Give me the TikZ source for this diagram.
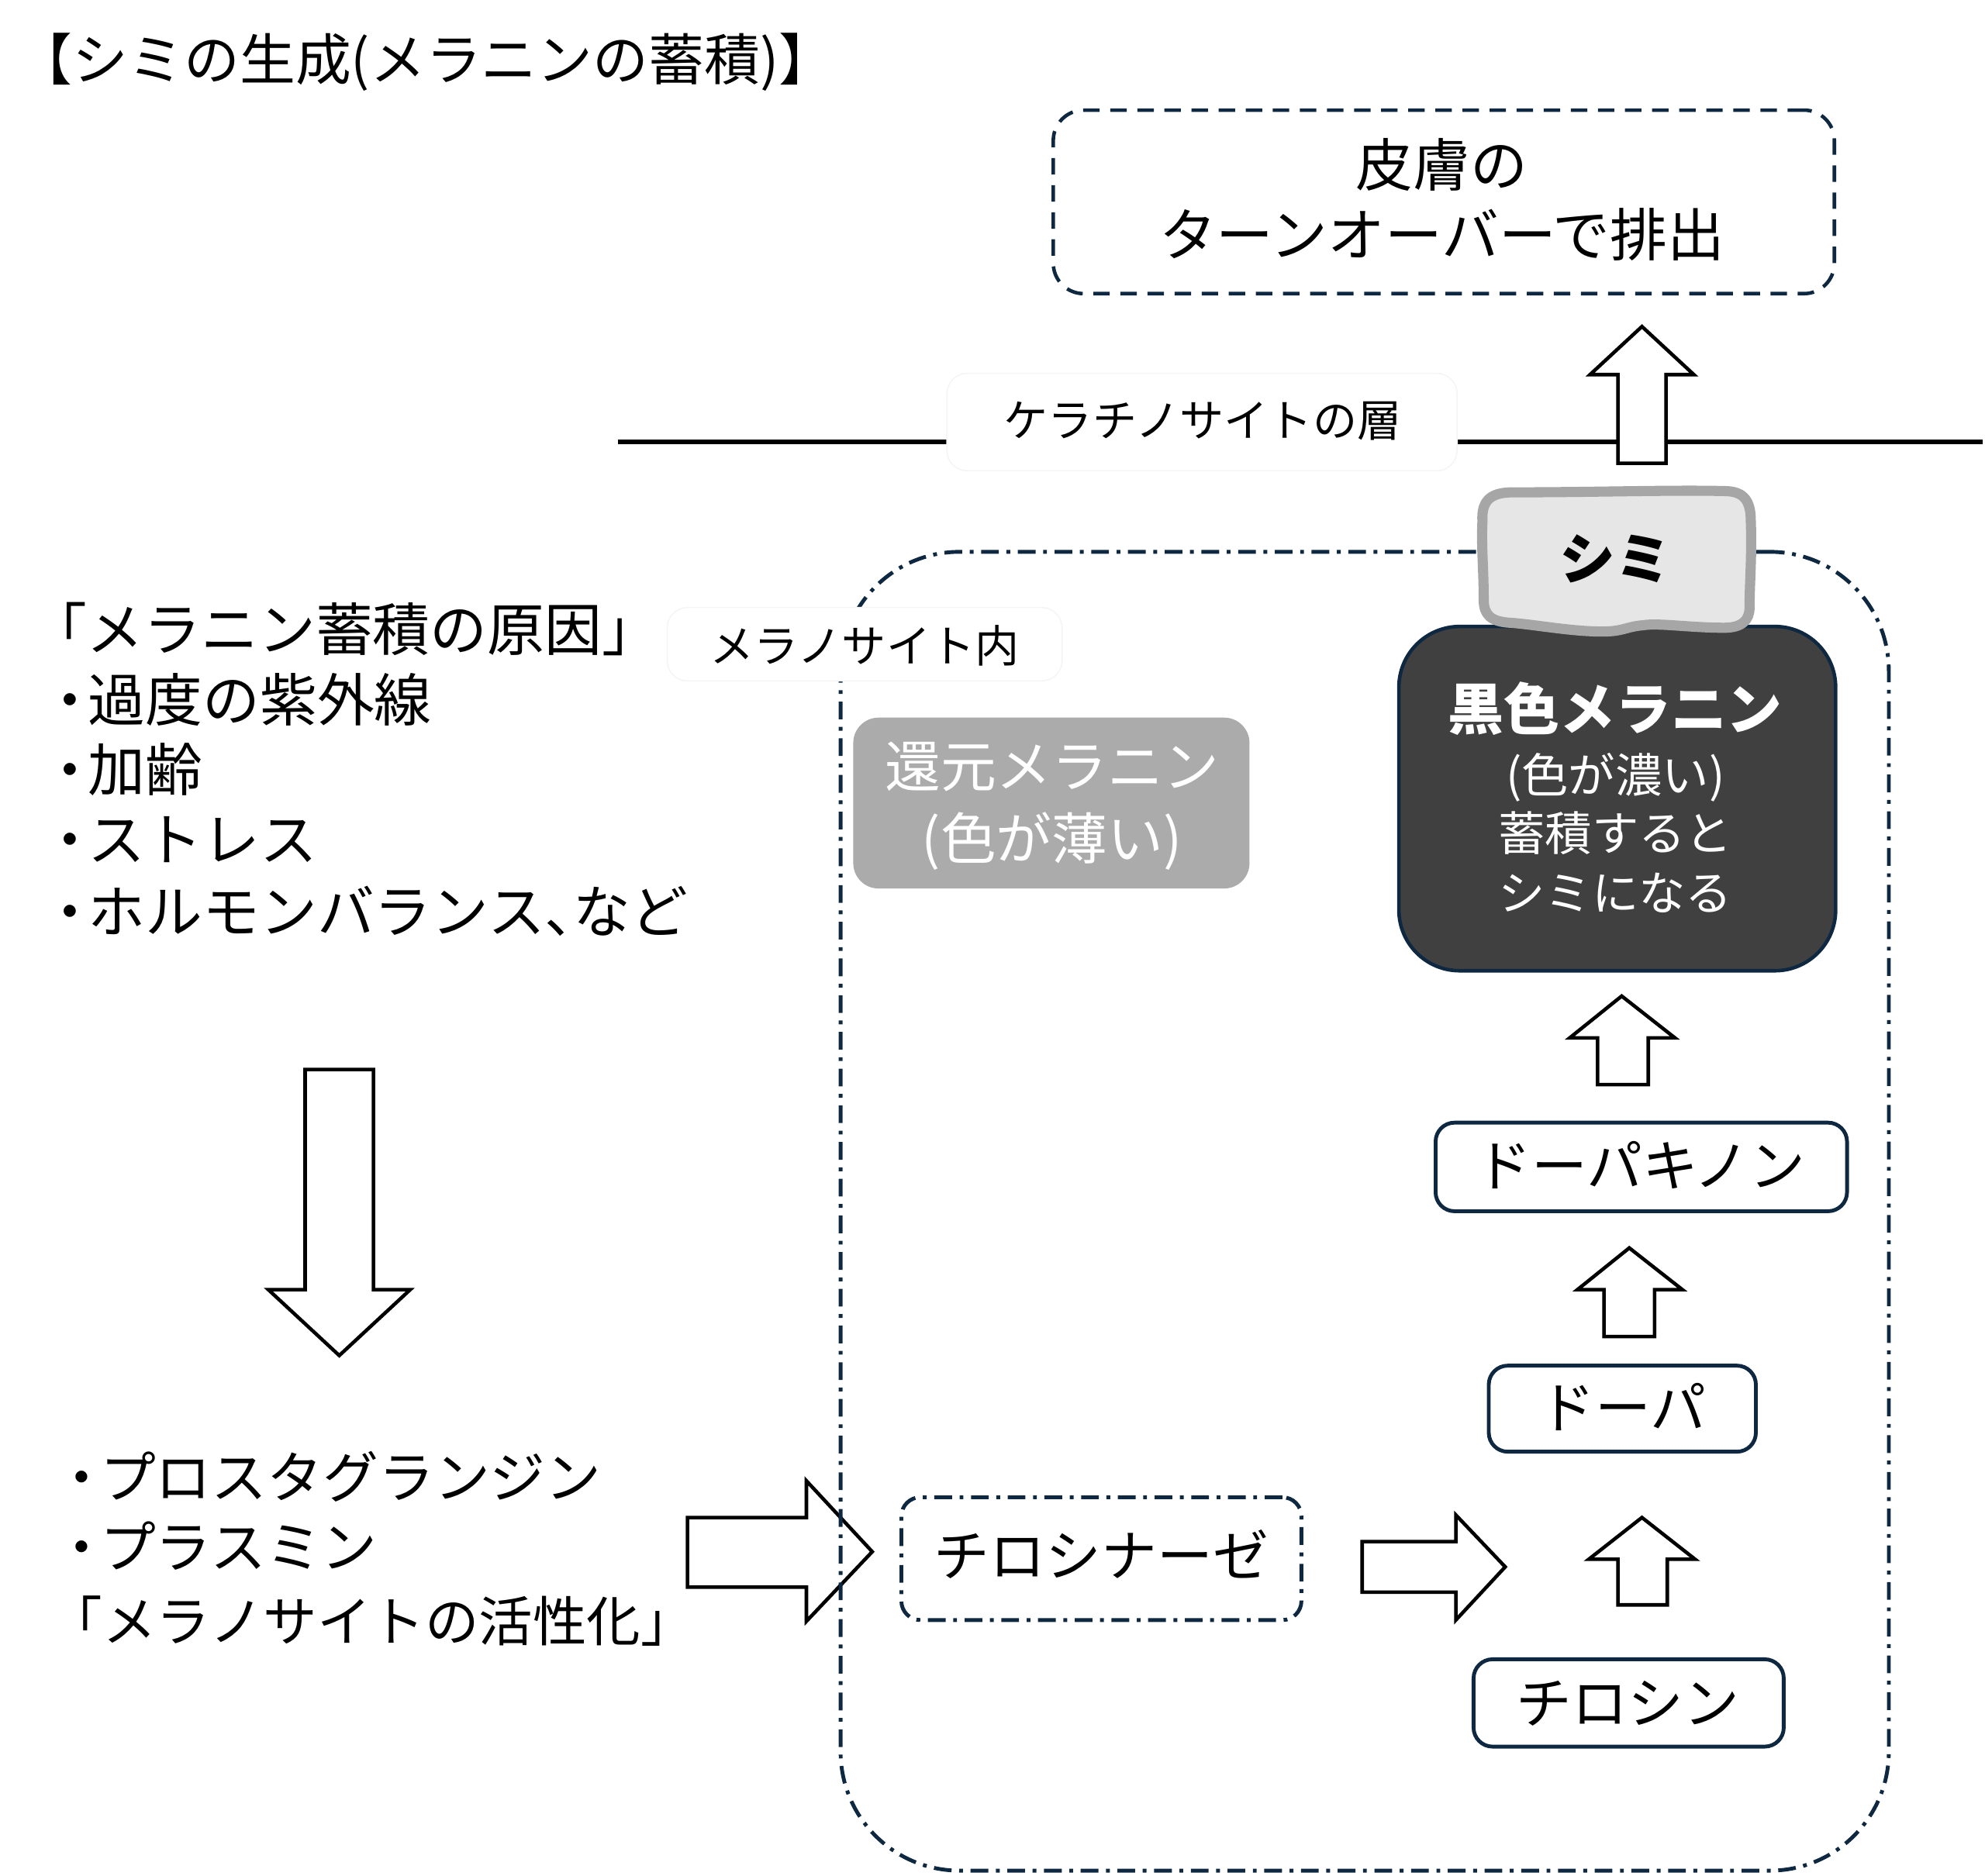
\documentclass[tikz,border=0pt]{standalone}
\usepackage{fontspec}
\setmainfont{Noto Sans CJK JP}
\usetikzlibrary{fit}
\definecolor{navy}{HTML}{0E2841}
\definecolor{darkfill}{HTML}{404040}
\definecolor{redgray}{HTML}{ABABAB}
\definecolor{shimiline}{HTML}{A6A6A6}
\definecolor{shimifill}{HTML}{E6E6E6}
\newcommand{\mydot}{\makebox[0.65em][c]{・}}
\newcommand{\mycomma}{\makebox[0.5em][l]{、}}
\begin{document}
\begin{tikzpicture}[x=0.5pt,y=-0.5pt,
  tA/.style={inner sep=0pt,font=\fontsize{22}{26}\selectfont,text height=18pt,text depth=1.3pt},
  tL/.style={inner sep=0pt,font=\fontsize{22.6}{26}\selectfont,text height=18.5pt,text depth=1.3pt},
  tAb/.style={inner sep=0pt,font=\fontsize{22}{26}\selectfont\bfseries,text height=18pt,text depth=1.3pt},
  tB/.style={inner sep=0pt,font=\fontsize{18.5}{22}\selectfont,text height=15.2pt,text depth=1.1pt},
  tC/.style={inner sep=0pt,font=\fontsize{17.5}{21}\selectfont,text height=14.4pt,text depth=1pt},
  hollow/.style={draw=black,fill=white,line width=1.4pt,line join=miter},
  stepbox/.style={draw=navy,line width=1.5pt,rounded corners=7.5pt,inner sep=0pt},
  dashdot/.style={dash pattern=on 7pt off 3pt on 1.5pt off 3pt},
  labelbox/.style={fill=white,draw=black!4,line width=0.5pt,rounded corners=8pt,inner sep=0pt}
]
\useasboundingbox (0,0) rectangle (1568,1482);

% title
\node[tA,anchor=west] (title) at (13,47) {【シミの生成(メラニンの蓄積)】};

% turnover box
\node[draw=navy,line width=1.4pt,dash pattern=on 6.5pt off 4.2pt,rounded corners=12pt,inner sep=0pt,fit={(832,87) (1449,232)}] (turn) {};
\node[tL] (turn1) at (1139,130) {皮膚の};
\node[tL] (turn2) at (1139,185) {ターンオーバーで排出};

% keratinocyte layer line
\coordinate (kl) at (488,349);
\coordinate (kr) at (1566,349);
\draw[line width=2pt] (kl) -- (kr);
\node[labelbox,fit={(748,295) (1151,372)}] (kerbox) {};
\node[tC] (ker) at (950,332) {ケラチノサイトの層};

% up arrow to turnover
\draw[hollow] (1278,366) -- (1278,296) -- (1256,296) -- (1297,258) -- (1338,296) -- (1316,296) -- (1316,366) -- cycle;

% big arrows on the left
\draw[hollow] (241,845) -- (295,845) -- (295,1019) -- (324,1019) -- (268,1071) -- (212,1019) -- (241,1019) -- cycle;
\draw[hollow] (543,1199) -- (637,1199) -- (637,1170) -- (689,1226) -- (637,1281) -- (637,1254) -- (543,1254) -- cycle;

% melanocyte region
\node[dashdot,draw=navy,line width=1.5pt,rounded corners=47pt,inner sep=0pt,fit={(664,436) (1492,1478)}] (melano) {};
\node[labelbox,fit={(527,480) (839,538)}] (melbox) {};
\node[tC] (mel) at (683,510) {メラノサイト内};

% reduced melanin
\node[fill=redgray,rounded corners=10pt,inner sep=0pt,fit={(674,567) (987,702)}] (redbox) {};
\node[tA,text=white] (red1) at (831,605) {還元メラニン};
\node[tA,text=white] (red2) at (831,662) {(色が薄い)};

% black melanin
\node[fill=darkfill,draw=navy,line width=1.4pt,rounded corners=24pt,inner sep=0pt,fit={(1105,495) (1450,767)}] (blk) {};
\node[tAb,text=white] (blk1) at (1276,560) {黒色メラニン};
\node[tB,text=white] (blk2) at (1276,612) {(色が濃い)};
\node[tB,text=white] (blk3) at (1276,658) {蓄積すると};
\node[tB,text=white] (blk4) at (1276,705) {シミになる};

% shimi (wobbly)
\draw[draw=shimiline,fill=shimifill,line width=4pt,line join=round]
  (1171,412) .. controls (1170,395) and (1178,389) .. (1195,389)
  .. controls (1260,389) and (1320,387) .. (1362,388)
  .. controls (1378,388) and (1383,396) .. (1383,412)
  .. controls (1384,440) and (1382,460) .. (1382,480)
  .. controls (1382,490) and (1376,496) .. (1362,496)
  .. controls (1335,496) and (1310,492) .. (1298,494)
  .. controls (1285,495) and (1282,499) .. (1266,499)
  .. controls (1240,499) and (1210,493) .. (1192,492)
  .. controls (1178,491) and (1172,486) .. (1172,474)
  .. controls (1172,450) and (1170,430) .. (1171,412) -- cycle;
\node[tAb] (shimi) at (1276,441) {シミ};

% pathway steps
\node[stepbox,fit={(1134,887) (1459,957)}] (dq) {};
\node[tA] (dqt) at (1296,921) {ドーパキノン};
\node[stepbox,fit={(1176,1079) (1387,1147)}] (dopa) {};
\node[tA] (dopat) at (1282,1112) {ドーパ};
\node[stepbox,fit={(1164,1311) (1409,1380)}] (tyr) {};
\node[tA] (tyrt) at (1286,1345) {チロシン};
\node[stepbox,dashdot,fit={(712,1183) (1028,1280)}] (tyrase) {};
\node[tA] (tyraset) at (870,1229) {チロシナーゼ};

% up arrows
\draw[hollow] (1262,857) -- (1262,820) -- (1240,820) -- (1281,787) -- (1323,820) -- (1302,820) -- (1302,857) -- cycle;
\draw[hollow] (1267,1056) -- (1267,1019) -- (1246,1019) -- (1287,986) -- (1329,1019) -- (1307,1019) -- (1307,1056) -- cycle;
\draw[hollow] (1278,1268) -- (1278,1232) -- (1255,1232) -- (1297,1199) -- (1339,1232) -- (1317,1232) -- (1317,1268) -- cycle;
% right arrow from tyrosinase
\draw[hollow] (1076,1218) -- (1150,1218) -- (1150,1197) -- (1189,1238) -- (1150,1280) -- (1150,1258) -- (1076,1258) -- cycle;

% left texts
\node[tL,anchor=west] (c0) at (23,497) {「メラニン蓄積の原因」};
\node[tL,anchor=west] (c1) at (40,553) {\mydot 過度の紫外線};
\node[tL,anchor=west] (c2) at (40,608) {\mydot 加齢};
\node[tL,anchor=west] (c3) at (40,663) {\mydot ストレス};
\node[tL,anchor=west] (c4) at (40,720) {\mydot ホルモンバランス\mycomma など};

\node[tA,anchor=west] (d1) at (50,1167) {\mydot プロスタグランジン};
\node[tA,anchor=west] (d2) at (50,1222) {\mydot プラスミン};
\node[tA,anchor=west,font=\fontsize{21.3}{26}\selectfont] (d3) at (38,1280) {「メラノサイトの活性化」};
\end{tikzpicture}
\end{document}
